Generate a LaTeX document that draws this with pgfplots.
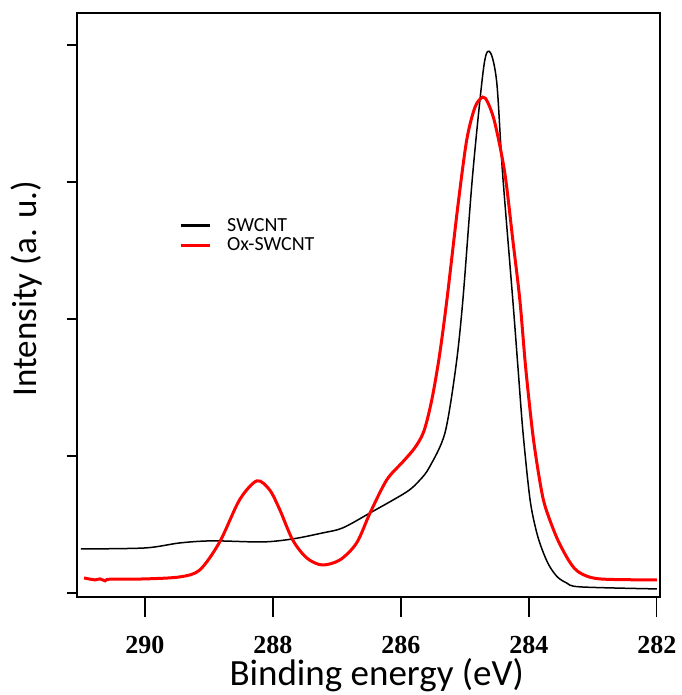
\documentclass[border=0pt]{standalone}
\usepackage{pgfplots}
\pgfplotsset{compat=1.18}
\usepackage{fontspec}
\setmainfont{Carlito}
\newfontfamily\tickfont{Liberation Serif}
\begin{document}
\begin{tikzpicture}
\begin{axis}[
  scale only axis,
  width=583pt, height=584pt,
  x dir=reverse,
  xmin=281.95, xmax=291.06,
  ymin=-0.03, ymax=4.234,
  xtick={282,284,286,288,290},
  ytick={-10},
  yticklabels={},
  minor ytick={0,1,2,3,4},
  tick pos=left,
  tick align=outside,
  major tick length=20pt,
  minor tick length=10pt,
  xtick style={line width=1.4pt, black},
  minor tick style={line width=1.4pt, black},
  axis line style={line width=1.6pt},
  /pgf/number format/assume math mode=true,
  /pgf/number format/1000 sep={},
  xticklabel style={font=\tickfont\bfseries\fontsize{26}{30}\selectfont, inner sep=0pt, anchor=north, yshift=-19pt},
  xlabel={Binding energy (eV)},
  ylabel={Intensity (a. u.)},
  xlabel style={font=\fontsize{37}{40}\selectfont, at={(axis description cs:0.514,-0.1507)}, anchor=base, inner sep=0pt},
  ylabel style={font=\fontsize{35}{38}\selectfont, at={(axis description cs:-0.113,0.528)}, anchor=north, inner sep=0pt},
  legend style={at={(axis description cs:0.175,0.652)}, anchor=north west, draw=none, fill=none,
    font=\fontsize{20}{22}\selectfont, inner sep=0pt, row sep=1pt, column sep=14pt},
  legend cell align=left,
  legend image code/.code={\draw[#1, line width=3pt] (0pt,0pt) -- (29pt,0pt);},
]
\addplot[black, line width=1.5pt, smooth, tension=0.5] coordinates {
(291.0,0.321) (290.0,0.328) (289.45,0.365) (288.94,0.380) (288.16,0.372) (287.69,0.394)
(287.22,0.438) (286.91,0.474) (286.48,0.584) (285.91,0.737) (285.70,0.825) (285.55,0.920)
(285.31,1.168) (285.14,1.650) (285.03,2.139) (284.875,3.066) (284.70,3.854) (284.60,3.944)
(284.50,3.723) (284.41,3.066) (284.25,2.139) (284.17,1.650) (284.09,1.168) (283.98,0.679)
(283.875,0.438) (283.77,0.29) (283.67,0.190) (283.55,0.115) (283.41,0.073) (283.20,0.044) (282.0,0.029)
};
\addlegendentry{SWCNT}
\addplot[red, line width=3pt, smooth, tension=0.5] coordinates {
(290.95,0.109) (290.85,0.100) (290.78,0.095) (290.70,0.102) (290.62,0.088) (290.55,0.100)
(290.0,0.102) (289.45,0.117) (289.14,0.168) (288.83,0.372) (288.52,0.679) (288.25,0.818)
(288.05,0.752) (287.89,0.606) (287.69,0.387) (287.47,0.255) (287.23,0.204) (286.95,0.241)
(286.69,0.365) (286.48,0.584) (286.22,0.825) (285.97,0.956) (285.78,1.06) (285.64,1.18)
(285.52,1.40) (285.40,1.72) (285.28,2.139) (285.11,2.818) (284.97,3.307) (284.84,3.547) (284.72,3.620)
(284.64,3.580) (284.53,3.431) (284.375,3.066) (284.25,2.577) (284.14,2.139) (284.05,1.650)
(283.94,1.168) (283.84,0.85) (283.75,0.640) (283.56,0.400) (283.36,0.225) (283.20,0.146) (282.89,0.102)
(282.0,0.095)
};
\addlegendentry{Ox-SWCNT}
\end{axis}
\path (current axis.south west) ++(-77pt,-98pt) rectangle ++(681pt,695pt);
\end{tikzpicture}
\end{document}
